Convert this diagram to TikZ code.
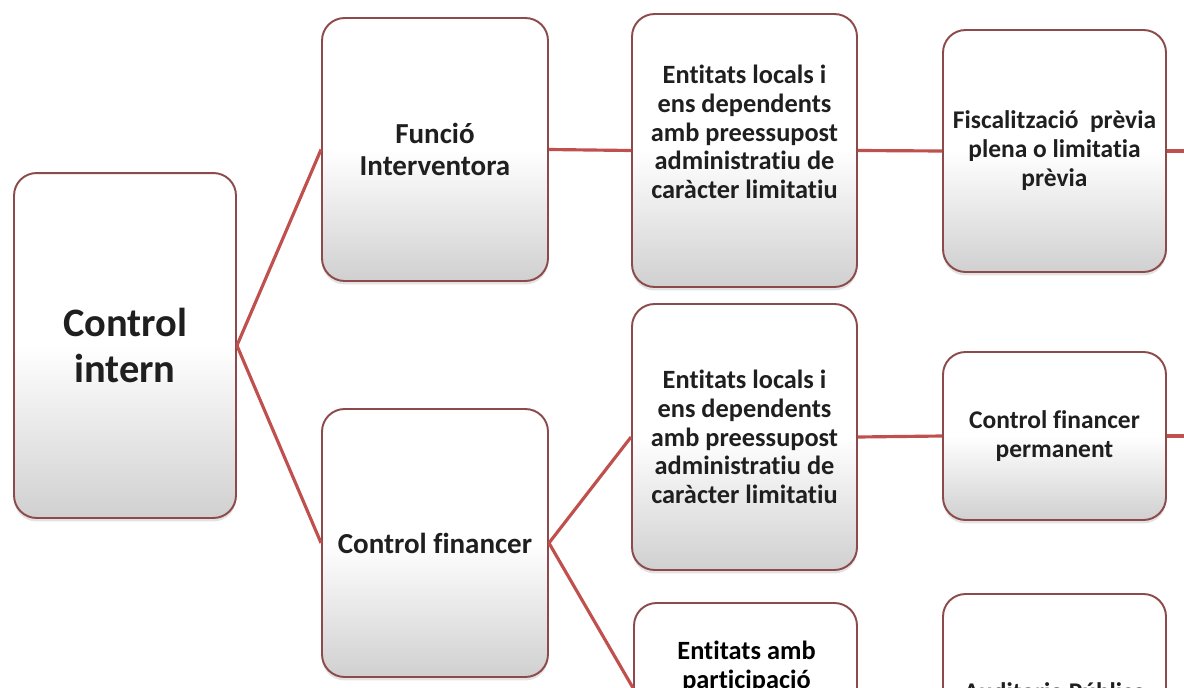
\documentclass[tikz,border=0pt]{standalone}
\usepackage{fontspec}
\setmainfont{Carlito}[Ligatures=NoCommon]
\usetikzlibrary{shadows}
\definecolor{linkred}{HTML}{C0504D}
\definecolor{boxedge}{HTML}{8C4A4A}
\definecolor{boxlow}{HTML}{D0D0D0}
\begin{document}
\begin{tikzpicture}[
    box/.style={draw=boxedge, line width=1.1pt, rounded corners=0.45cm,
      top color=white, bottom color=boxlow, middle color=white,
      drop shadow={shadow xshift=0pt, shadow yshift=-0.07cm, opacity=0.22},
      align=center, text=black!88, inner sep=0pt},
    txt/.style={align=center, text=black!88, inner sep=0pt},
    lvl0/.style={font=\bfseries\fontsize{23}{26.2}\selectfont},
    lvl1/.style={font=\bfseries\fontsize{16.5}{18.2}\selectfont},
    lvl2/.style={font=\bfseries\fontsize{15}{16.3}\selectfont},
    lvl3/.style={font=\bfseries\fontsize{14.5}{16.5}\selectfont},
    link/.style={draw=linkred, line width=1.8pt},
  ]
        \def\x{0.02}
        \def\y{-0.02}
        \useasboundingbox (0,0) rectangle (1184*\x, 688*\y);
        \clip (0,0) rectangle (1184*\x, 688*\y);
        % first column
        \node [box, lvl0, minimum width=4.44cm, minimum height=6.9cm] (A0_0) at (125*\x, 345.5*\y) {Control\\intern};
        % second column
        \node [box, lvl1, minimum width=4.52cm, minimum height=5.26cm] (A0_1) at (435*\x, 149.5*\y) {Funció\\Interventora};
        \node [box, lvl1, minimum width=4.52cm, minimum height=5.36cm] (A1_1) at (435*\x, 543*\y) {Control financer};
        % third column
        \node [box, minimum width=4.5cm, minimum height=5.46cm] (A0_2) at (744.5*\x, 150.5*\y) {};
        \node [txt, lvl2] (T0_2) at (744.5*\x, 132*\y) {Entitats locals i\\ens dependents\\amb preessupost\\administratiu de\\caràcter limitatiu};
        \node [box, lvl2, minimum width=4.5cm, minimum height=5.32cm] (A1_2) at (744.5*\x, 437*\y) {Entitats locals i\\ens dependents\\amb preessupost\\administratiu de\\caràcter limitatiu};
        \node [box, minimum width=4.46cm, minimum height=3.4cm] (A2_2) at (745.5*\x, 688*\y) {};
        \node [txt, lvl2, text=black] (T2_2) at (746.5*\x, 667*\y) {Entitats amb\\participació};
        % fourth column
        \node [box, lvl3, minimum width=4.46cm, minimum height=4.84cm] (A0_3) at (1054.5*\x, 151*\y) {Fiscalització\ \ prèvia\\plena o limitatia\\prèvia};
        \node [box, lvl3, minimum width=4.46cm, minimum height=3.36cm] (A1_3) at (1054.5*\x, 436*\y) {Control financer\\permanent};
        \node [box, lvl3, minimum width=4.46cm, minimum height=3.92cm] (A2_3) at (1054.5*\x, 692*\y) {Auditoria Pública};
        \coordinate (E0) at (1200*\x, 151*\y);
        \coordinate (E1) at (1200*\x, 436*\y);
        % connectors
        \path (A0_0.east) edge [link] (A0_1.west);
        \path (A0_0.east) edge [link] (A1_1.west);
        \path (A0_1.east) edge [link] (A0_2.west);
        \path (A0_2.east) edge [link] (A0_3.west);
        \path (A0_3.east) edge [link] (E0);
        \path (A1_1.east) edge [link] (A1_2.west);
        \path (A1_1.east) edge [link] (A2_2.west);
        \path (A1_2.east) edge [link] (A1_3.west);
        \path (A1_3.east) edge [link] (E1);
      \end{tikzpicture}
\end{document}
